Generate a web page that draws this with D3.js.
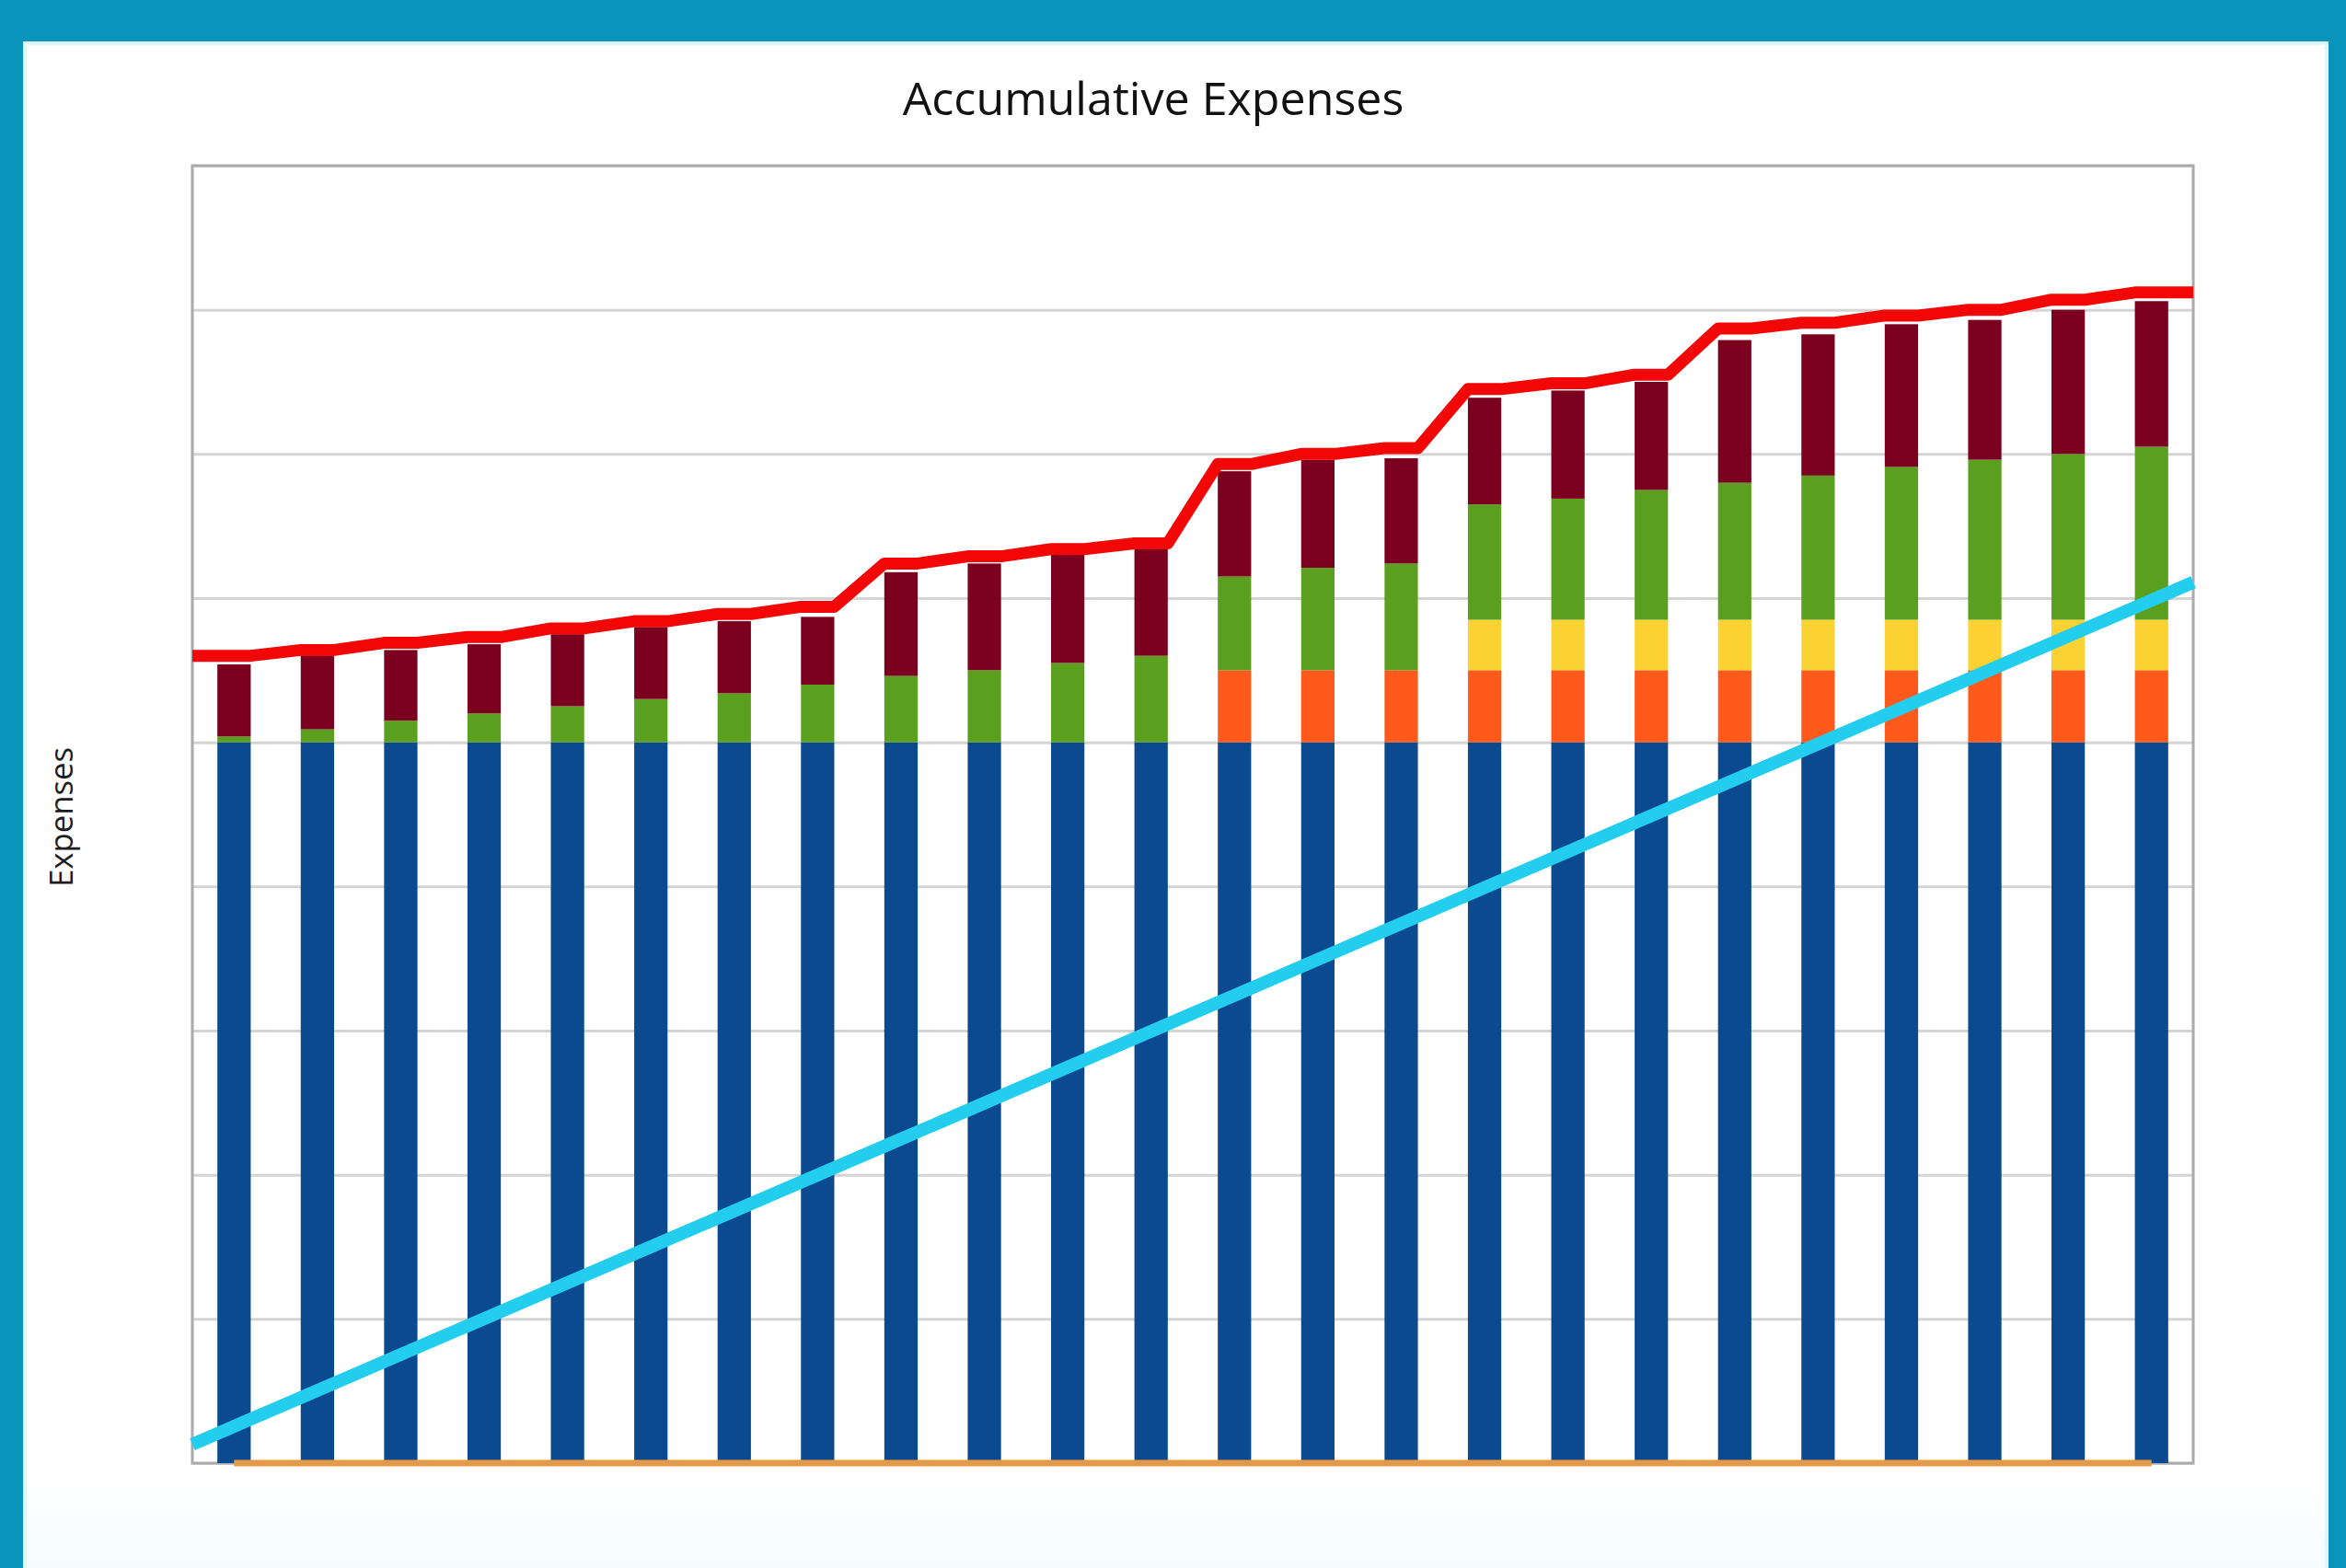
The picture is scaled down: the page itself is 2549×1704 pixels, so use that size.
<!DOCTYPE html>
<html>
<head>
<meta charset="utf-8">
<script src="https://cdn.jsdelivr.net/npm/d3@7"></script>
<style>
  html, body { margin: 0; padding: 0; background: #0894bb; }
  svg { display: block; }
</style>
</head>
<body>
<svg id="chart" width="2549" height="1704"></svg>
<script>
// ---- data (y units = gridline steps) ----
const categories = ["1","2","3","4","5","6","7","8","9","10","11","12",
                    "13","14","15","16","17","18","19","20","21","22","23","24"];
const seriesKeys = ["base", "orange", "yellow", "green", "maroon"];
const baseValues   = [5,5,5,5,5,5,5,5,5,5,5,5,5,5,5,5,5,5,5,5,5,5,5,5];
const orangeValues = [0,0,0,0,0,0,0,0,0,0,0,0,0.5,0.5,0.5,0.5,0.5,0.5,0.5,0.5,0.5,0.5,0.5,0.5];
const yellowValues = [0,0,0,0,0,0,0,0,0,0,0,0,0,0,0,0.35,0.35,0.35,0.35,0.35,0.35,0.35,0.35,0.35];
const greenValues  = [0.04,0.09,0.15,0.20,0.25,0.30,0.34,0.40,0.46,0.50,0.55,0.60,
                      0.65,0.71,0.74,0.80,0.84,0.90,0.95,1.00,1.06,1.11,1.15,1.20];
const maroonValues = [0.50,0.51,0.49,0.48,0.50,0.50,0.50,0.47,0.72,0.74,0.75,0.76,
                      0.73,0.75,0.73,0.74,0.75,0.75,0.99,0.98,0.99,0.97,1.00,1.01];
const totalLineValues = [5.60,5.64,5.69,5.73,5.79,5.84,5.89,5.94,6.24,6.29,6.34,6.38,
                         6.93,7.00,7.04,7.45,7.49,7.55,7.87,7.91,7.96,8.00,8.07,8.12];
const trendValues = [0.13,0.39,0.65,0.91,1.17,1.43,1.69,1.95,2.21,2.47,2.73,2.99,
                     3.25,3.51,3.77,4.03,4.29,4.55,4.81,5.07,5.33,5.59,5.85,6.11];
const zeroLineValues = [0,0,0,0,0,0,0,0,0,0,0,0,0,0,0,0,0,0,0,0,0,0,0,0];
const yTicks = [0,1,2,3,4,5,6,7,8,9];
const titleText = "Accumulative Expenses";
const yAxisLabel = "Expenses";

// ---- build rows for the stack ----
const rows = categories.map((c, i) => ({
  cat: c,
  base: baseValues[i], orange: orangeValues[i], yellow: yellowValues[i],
  green: greenValues[i], maroon: maroonValues[i]
}));
const colors = {
  base: "#0b4a8e", orange: "#ff5a1c", yellow: "#fbd232",
  green: "#5b9f1f", maroon: "#7b0020"
};

// ---- layout ----
const svg = d3.select("#chart");
const W = 2549, H = 1704;
const panel = {x: 27, y: 47, w: 2501, h: 1680};
const plot = {left: 209, top: 180, right: 2383, bottom: 1590};
const pw = plot.right - plot.left, ph = plot.bottom - plot.top;

svg.append("rect").attr("x", 0).attr("y", 0).attr("width", W).attr("height", H).attr("fill", "#0894bb");
const grad = svg.append("defs").append("linearGradient").attr("id", "pg")
  .attr("x1", 0).attr("y1", 0).attr("x2", 0).attr("y2", 1);
grad.append("stop").attr("offset", "0.93").attr("stop-color", "#ffffff");
grad.append("stop").attr("offset", "1").attr("stop-color", "#f1fbfe");
svg.append("rect").attr("x", panel.x).attr("y", panel.y).attr("width", panel.w).attr("height", panel.h)
  .attr("fill", "url(#pg)").attr("stroke", "#dff7fc").attr("stroke-width", 4);

const x = d3.scaleBand().domain(categories).range([0, pw]).paddingInner(0.6).paddingOuter(0.3);
const xEdge = d3.scalePoint().domain(categories).range([0, pw]);
const y = d3.scaleLinear().domain([0, 9]).range([ph, 0]);

const g = svg.append("g").attr("transform", `translate(${plot.left},${plot.top})`);

// gridlines
const yAxis = d3.axisLeft(y).tickValues(yTicks).tickSize(-pw).tickFormat("");
const ga = g.append("g").call(yAxis);
ga.select(".domain").remove();
ga.selectAll(".tick line").attr("stroke", "#d4d4d4").attr("stroke-width", 3);

// plot border
g.append("rect").attr("x", 0).attr("y", 0).attr("width", pw).attr("height", ph)
  .attr("fill", "none").attr("stroke", "#ababab").attr("stroke-width", 3);

// stacked bars
const stacked = d3.stack().keys(seriesKeys)(rows);
g.selectAll("g.series").data(stacked).join("g")
  .attr("class", "series").attr("fill", d => colors[d.key])
  .selectAll("rect").data(d => d).join("rect")
  .attr("x", d => x(d.data.cat))
  .attr("width", x.bandwidth())
  .attr("y", d => y(d[1]))
  .attr("height", d => Math.max(0, y(d[0]) - y(d[1])));

// orange zero line at bar centres
const lineC = d3.line().x((d, i) => x(categories[i]) + x.bandwidth() / 2).y(d => y(d));
g.append("path").datum(zeroLineValues).attr("d", lineC)
  .attr("fill", "none").attr("stroke", "#e59a48").attr("stroke-width", 7);

// cyan trend line, edge to edge
const lineE = d3.line().x((d, i) => xEdge(categories[i])).y(d => y(d));
g.append("path").datum(trendValues).attr("d", lineE)
  .attr("fill", "none").attr("stroke", "#22cdee").attr("stroke-width", 14)
  .attr("stroke-linejoin", "round");

// red total line: follows bar tops (left & right edge of each bar), extended to plot edges
const redPts = [[0, totalLineValues[0]]];
categories.forEach((c, i) => {
  redPts.push([x(c), totalLineValues[i]]);
  redPts.push([x(c) + x.bandwidth(), totalLineValues[i]]);
});
redPts.push([pw, totalLineValues[totalLineValues.length - 1]]);
g.append("path").datum(redPts)
  .attr("d", d3.line().x(d => d[0]).y(d => y(d[1])))
  .attr("fill", "none").attr("stroke", "#f20606").attr("stroke-width", 13)
  .attr("stroke-linejoin", "round");

// title
const t = svg.append("text").attr("x", 1253).attr("y", 125)
  .attr("text-anchor", "middle").attr("font-family", "Open Sans, Lato, sans-serif")
  .attr("font-size", 47).attr("fill", "#111111").text(titleText);
const tl = t.node().getComputedTextLength();
t.attr("font-size", 47 * 545 / tl);

// y label
const yl = svg.append("text").attr("transform", "translate(79,888) rotate(-90)")
  .attr("text-anchor", "middle").attr("font-family", "Open Sans, Lato, sans-serif")
  .attr("font-size", 34).attr("fill", "#1e1e1e").text(yAxisLabel);
const yll = yl.node().getComputedTextLength();
yl.attr("font-size", 34 * 152 / yll);
</script>
</body>
</html>
